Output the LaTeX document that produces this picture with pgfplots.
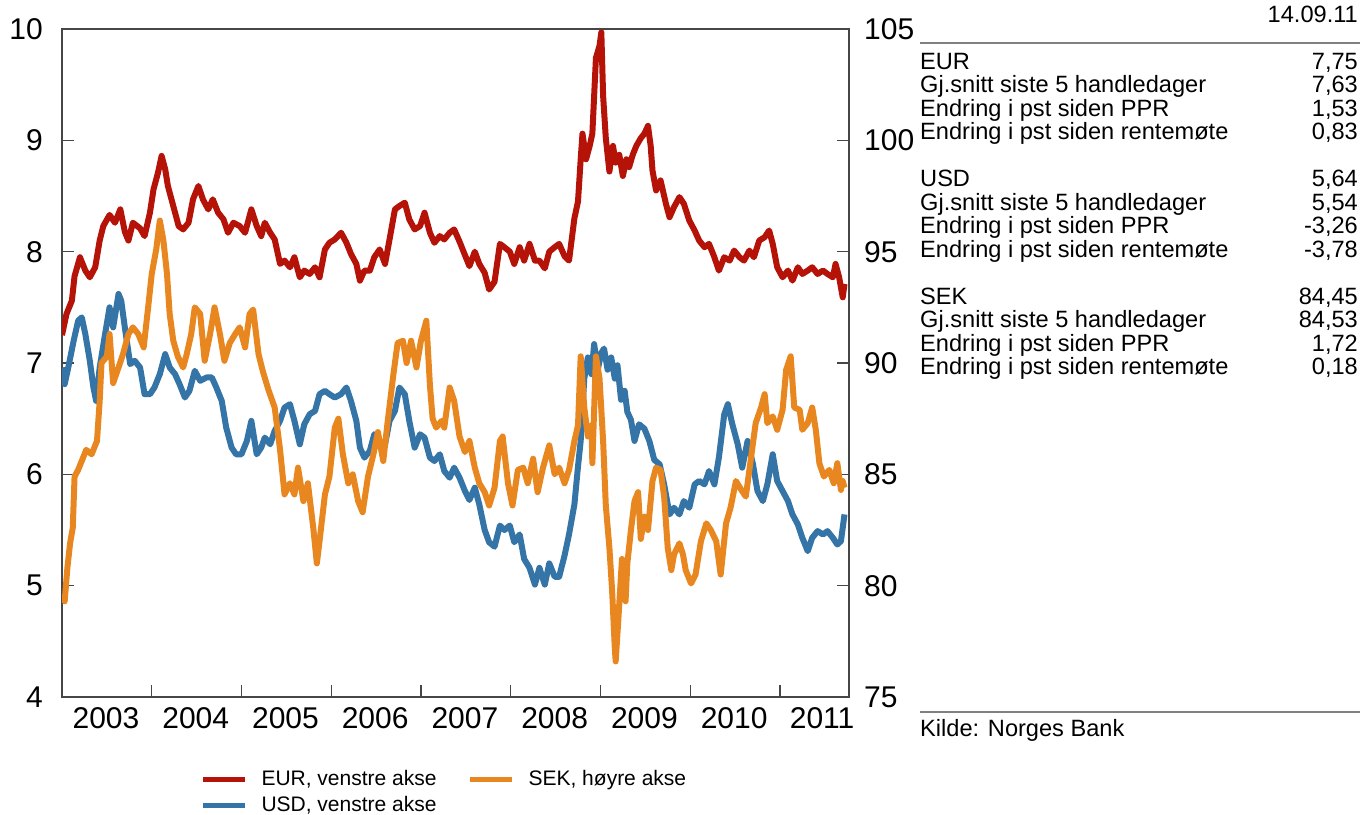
\documentclass[border=0pt]{standalone}
\usepackage{fontspec}
\setmainfont{Liberation Sans}
\usepackage{pgfplots}
\pgfplotsset{compat=1.18}
\definecolor{eur}{RGB}{181,18,8}
\definecolor{usd}{RGB}{52,116,166}
\definecolor{sek}{RGB}{232,135,32}
\definecolor{axgray}{RGB}{70,70,70}
\definecolor{rulegray}{RGB}{128,128,128}

\newcommand{\trow}[3]{%
  \node[anchor=base west,inner sep=0pt] at (920pt,-#1pt) {#2};%
  \node[anchor=base east,inner sep=0pt] at (1358pt,-#1pt) {#3};}

\begin{document}
\begin{tikzpicture}
\path[use as bounding box] (0pt,0pt) rectangle (1365pt,-814pt);
\pgfplotsset{
  every axis/.append style={
    scale only axis, width=787pt, height=668pt,
    xmin=2003, xmax=2011.77,
    axis line style={axgray, line width=1.2pt},
    every tick/.style={axgray, line width=1.2pt},
    major tick length=12pt,
    tick align=inside,
    /pgf/number format/assume math mode=true,
    ticklabel style={font=\fontsize{30}{36}\selectfont},
  }
}
\begin{axis}[at={(62pt,-697pt)}, anchor=south west,
  ymin=4, ymax=10, ytick={4,5,...,10},
  ytick pos=left, xtick pos=bottom,
  xtick={2004,2005,2006,2007,2008,2009,2010,2011}, xticklabels={},
  extra x ticks={2003.49,2004.49,2005.49,2006.49,2007.49,2008.49,2009.49,2010.49,2011.47},
  extra x tick labels={2003,2004,2005,2006,2007,2008,2009,2010,2011},
  extra x tick style={major tick length=0pt},
  xticklabel style={anchor=north, inner sep=0pt, yshift=-10pt},
  yticklabel style={anchor=east, inner sep=0pt, xshift=-19pt},
  legend columns=2,
  legend cell align=left,
  legend image code/.code={\draw[#1, line width=5pt] (0pt,0pt) -- (42pt,0pt);},
  legend style={draw=none, fill=none, inner sep=0pt, outer sep=0pt,
    at={(0.176,-0.110)}, anchor=north west,
    font=\fontsize{21}{25}\selectfont,
    nodes={inner sep=0pt, text height=15pt, text depth=4pt},
    row sep=7pt,
    /tikz/every odd column/.append style={column sep=14pt},
    /tikz/every even column/.append style={column sep=31pt}},
]
\addplot[eur, line width=6pt, line join=round] coordinates {
(2003.00,7.25)(2003.05,7.44)(2003.11,7.56)(2003.14,7.78)(2003.20,7.95)(2003.26,7.83)
(2003.31,7.77)(2003.37,7.86)(2003.42,8.10)(2003.46,8.23)(2003.53,8.33)(2003.59,8.26)
(2003.65,8.38)(2003.70,8.18)(2003.74,8.10)(2003.79,8.26)(2003.87,8.21)(2003.92,8.14)
(2003.98,8.35)(2004.02,8.56)(2004.07,8.71)(2004.11,8.86)(2004.15,8.74)(2004.18,8.59)
(2004.24,8.41)(2004.30,8.23)(2004.35,8.20)(2004.41,8.26)(2004.46,8.47)(2004.52,8.59)
(2004.57,8.47)(2004.63,8.38)(2004.68,8.47)(2004.74,8.35)(2004.80,8.29)(2004.85,8.17)
(2004.91,8.26)(2004.98,8.23)(2005.04,8.17)(2005.11,8.38)(2005.17,8.23)(2005.22,8.14)
(2005.26,8.26)(2005.32,8.17)(2005.37,8.11)(2005.43,7.89)(2005.48,7.92)(2005.54,7.86)
(2005.59,7.95)(2005.65,7.77)(2005.70,7.83)(2005.76,7.80)(2005.82,7.86)(2005.87,7.77)
(2005.93,8.02)(2005.98,8.08)(2006.04,8.11)(2006.11,8.17)(2006.17,8.08)(2006.22,7.98)
(2006.28,7.89)(2006.32,7.74)(2006.37,7.83)(2006.43,7.83)(2006.48,7.95)(2006.54,8.02)
(2006.60,7.89)(2006.65,8.11)(2006.71,8.38)(2006.76,8.41)(2006.82,8.44)(2006.87,8.29)
(2006.93,8.20)(2006.99,8.23)(2007.04,8.35)(2007.10,8.17)(2007.15,8.08)(2007.21,8.14)
(2007.26,8.11)(2007.32,8.17)(2007.37,8.20)(2007.43,8.09)(2007.49,7.97)(2007.54,7.87)
(2007.60,8.00)(2007.65,7.89)(2007.71,7.81)(2007.76,7.66)(2007.82,7.73)(2007.88,8.07)
(2007.93,8.04)(2007.99,8.00)(2008.04,7.89)(2008.10,8.04)(2008.15,7.92)(2008.21,8.07)
(2008.27,7.92)(2008.32,7.92)(2008.38,7.85)(2008.43,8.00)(2008.49,8.04)(2008.54,8.07)
(2008.60,7.96)(2008.65,7.92)(2008.71,8.30)(2008.75,8.45)(2008.78,8.83)(2008.80,9.06)
(2008.84,8.83)(2008.88,8.95)(2008.91,9.06)(2008.95,9.74)(2008.99,9.85)(2009.01,9.97)
(2009.03,9.40)(2009.06,9.02)(2009.10,8.72)(2009.14,8.95)(2009.17,8.80)(2009.21,8.87)
(2009.25,8.68)(2009.29,8.83)(2009.32,8.76)(2009.36,8.87)(2009.40,8.95)(2009.45,9.02)
(2009.49,9.06)(2009.53,9.13)(2009.56,8.95)(2009.58,8.73)(2009.62,8.55)(2009.67,8.64)
(2009.73,8.43)(2009.77,8.31)(2009.82,8.40)(2009.88,8.49)(2009.93,8.43)(2009.99,8.28)
(2010.05,8.19)(2010.10,8.10)(2010.16,8.04)(2010.21,8.07)(2010.27,7.95)(2010.32,7.83)
(2010.38,7.95)(2010.44,7.92)(2010.49,8.01)(2010.55,7.95)(2010.60,7.92)(2010.66,8.01)
(2010.71,7.95)(2010.77,8.10)(2010.83,8.13)(2010.88,8.19)(2010.92,8.07)(2010.97,7.86)
(2011.03,7.77)(2011.09,7.83)(2011.14,7.74)(2011.20,7.86)(2011.25,7.80)(2011.31,7.83)
(2011.36,7.86)(2011.42,7.80)(2011.48,7.83)(2011.53,7.80)(2011.59,7.77)(2011.62,7.89)
(2011.66,7.77)(2011.70,7.59)(2011.72,7.71)
};
\addlegendentry{EUR, venstre akse}
\addlegendimage{sek}
\addlegendentry{SEK, høyre akse}
\addplot[usd, line width=6pt, line join=round] coordinates {
(2003.00,6.96)(2003.03,6.81)(2003.07,6.96)(2003.13,7.20)(2003.18,7.38)(2003.22,7.41)
(2003.26,7.26)(2003.31,7.02)(2003.35,6.78)(2003.38,6.66)(2003.42,6.96)(2003.48,7.26)
(2003.53,7.50)(2003.57,7.32)(2003.63,7.62)(2003.66,7.56)(2003.70,7.32)(2003.76,6.99)
(2003.81,7.02)(2003.87,6.96)(2003.92,6.72)(2003.98,6.72)(2004.03,6.78)(2004.09,6.90)
(2004.15,7.08)(2004.20,6.96)(2004.26,6.90)(2004.31,6.81)(2004.37,6.69)(2004.42,6.75)
(2004.48,6.93)(2004.54,6.84)(2004.61,6.87)(2004.67,6.87)(2004.72,6.78)(2004.78,6.66)
(2004.83,6.42)(2004.89,6.24)(2004.94,6.18)(2005.00,6.18)(2005.06,6.30)(2005.11,6.48)
(2005.17,6.18)(2005.22,6.24)(2005.26,6.33)(2005.32,6.27)(2005.37,6.39)(2005.43,6.48)
(2005.48,6.60)(2005.54,6.63)(2005.59,6.48)(2005.65,6.27)(2005.70,6.45)(2005.76,6.54)
(2005.82,6.57)(2005.87,6.72)(2005.93,6.75)(2005.98,6.72)(2006.04,6.69)(2006.11,6.72)
(2006.17,6.78)(2006.22,6.66)(2006.28,6.48)(2006.32,6.24)(2006.37,6.15)(2006.43,6.21)
(2006.48,6.36)(2006.54,6.30)(2006.60,6.27)(2006.65,6.48)(2006.71,6.57)(2006.76,6.78)
(2006.82,6.72)(2006.87,6.48)(2006.93,6.24)(2006.99,6.36)(2007.04,6.33)(2007.10,6.15)
(2007.15,6.12)(2007.21,6.18)(2007.26,6.03)(2007.32,5.97)(2007.37,6.06)(2007.43,5.97)
(2007.49,5.85)(2007.54,5.77)(2007.60,5.88)(2007.65,5.73)(2007.71,5.50)(2007.76,5.39)
(2007.82,5.35)(2007.88,5.54)(2007.93,5.50)(2007.99,5.54)(2008.04,5.39)(2008.10,5.46)
(2008.15,5.24)(2008.21,5.16)(2008.27,5.01)(2008.32,5.16)(2008.38,5.01)(2008.43,5.20)
(2008.49,5.08)(2008.54,5.08)(2008.60,5.27)(2008.65,5.46)(2008.71,5.73)(2008.75,6.07)
(2008.78,6.30)(2008.82,6.86)(2008.86,7.05)(2008.90,6.90)(2008.93,7.17)(2008.97,6.94)
(2009.01,7.09)(2009.04,7.13)(2009.08,6.94)(2009.12,7.05)(2009.16,6.86)(2009.19,6.98)
(2009.23,6.67)(2009.27,6.75)(2009.30,6.56)(2009.34,6.49)(2009.38,6.30)(2009.43,6.45)
(2009.49,6.41)(2009.545,6.30)(2009.60,6.13)(2009.66,6.09)(2009.71,5.91)(2009.77,5.64)
(2009.82,5.70)(2009.88,5.64)(2009.93,5.76)(2009.99,5.70)(2010.05,5.91)(2010.10,5.94)
(2010.16,5.91)(2010.21,6.03)(2010.27,5.91)(2010.32,6.15)(2010.38,6.54)(2010.42,6.63)
(2010.47,6.45)(2010.53,6.27)(2010.58,6.06)(2010.64,6.30)(2010.70,6.09)(2010.75,5.85)
(2010.81,5.76)(2010.86,5.91)(2010.92,6.18)(2010.97,5.94)(2011.03,5.85)(2011.09,5.76)
(2011.14,5.64)(2011.20,5.55)(2011.25,5.43)(2011.31,5.31)(2011.36,5.43)(2011.42,5.49)
(2011.48,5.46)(2011.53,5.49)(2011.59,5.43)(2011.64,5.37)(2011.68,5.40)(2011.72,5.64)
};
\addlegendentry{USD, venstre akse}
\end{axis}

\begin{axis}[at={(62pt,-697pt)}, anchor=south west,
  ymin=75, ymax=105, ytick={75,80,...,105},
  axis y line*=right, axis x line=none,
  yticklabel style={anchor=west, inner sep=0pt, xshift=15pt},
]
\addplot[sek, line width=6pt, line join=round] coordinates {
(2003.00,79.6)(2003.03,79.3)(2003.06,80.8)(2003.09,81.9)(2003.12,82.6)(2003.14,84.9)
(2003.18,85.2)(2003.22,85.6)(2003.27,86.1)(2003.33,85.9)(2003.39,86.5)(2003.42,88.3)
(2003.44,90.0)(2003.50,90.3)(2003.53,91.3)(2003.57,89.1)(2003.63,89.8)(2003.68,90.4)
(2003.74,91.3)(2003.79,91.6)(2003.85,91.3)(2003.91,90.7)(2003.96,92.5)(2004.00,94.0)
(2004.05,95.1)(2004.09,96.4)(2004.13,95.5)(2004.17,94.0)(2004.20,92.2)(2004.24,91.0)
(2004.29,90.3)(2004.35,89.8)(2004.39,90.4)(2004.44,91.3)(2004.48,92.5)(2004.54,92.2)
(2004.59,90.1)(2004.65,91.3)(2004.70,92.5)(2004.76,91.3)(2004.81,90.1)(2004.87,90.9)
(2004.93,91.3)(2004.98,91.6)(2005.04,90.7)(2005.09,92.2)(2005.13,92.4)(2005.19,90.4)
(2005.24,89.6)(2005.30,88.8)(2005.37,88.0)(2005.43,86.1)(2005.48,84.1)(2005.54,84.6)
(2005.59,84.1)(2005.63,85.3)(2005.69,83.8)(2005.74,84.6)(2005.80,82.6)(2005.84,81.0)
(2005.87,82.0)(2005.93,84.1)(2005.98,84.9)(2006.04,87.1)(2006.08,87.5)(2006.13,85.9)
(2006.19,84.6)(2006.24,85.0)(2006.30,83.8)(2006.35,83.3)(2006.41,84.9)(2006.47,85.9)
(2006.52,86.9)(2006.58,85.6)(2006.63,87.4)(2006.69,89.4)(2006.74,90.9)(2006.80,91.0)
(2006.84,90.0)(2006.89,91.0)(2006.95,89.8)(2007.00,91.0)(2007.06,91.9)(2007.10,89.0)
(2007.13,87.5)(2007.17,87.1)(2007.23,87.4)(2007.26,87.1)(2007.32,88.9)(2007.37,88.3)
(2007.43,86.7)(2007.49,86.0)(2007.54,86.5)(2007.60,85.3)(2007.65,84.6)(2007.71,84.2)
(2007.76,83.6)(2007.82,84.4)(2007.88,86.5)(2007.91,86.7)(2007.97,84.6)(2008.02,83.6)
(2008.08,85.2)(2008.14,85.3)(2008.19,84.6)(2008.25,85.7)(2008.30,84.2)(2008.36,85.3)
(2008.43,86.3)(2008.49,85.0)(2008.54,85.3)(2008.60,84.6)(2008.65,85.2)(2008.71,86.5)
(2008.75,87.2)(2008.78,90.3)(2008.82,88.0)(2008.86,86.7)(2008.90,87.2)(2008.91,85.5)
(2008.95,90.3)(2008.99,89.3)(2009.03,86.5)(2009.06,83.6)(2009.10,81.7)(2009.13,79.8)
(2009.16,77.2)(2009.17,76.6)(2009.20,78.5)(2009.24,81.2)(2009.28,79.3)(2009.30,81.0)
(2009.34,82.5)(2009.38,83.8)(2009.42,84.2)(2009.45,82.1)(2009.49,83.1)(2009.53,82.5)
(2009.58,84.7)(2009.62,85.3)(2009.67,85.2)(2009.71,84.0)(2009.75,81.7)(2009.79,80.7)
(2009.82,81.4)(2009.88,81.9)(2009.92,81.4)(2009.95,80.7)(2010.01,80.1)(2010.06,80.5)
(2010.12,82.0)(2010.18,82.8)(2010.23,82.5)(2010.29,82.0)(2010.34,80.5)(2010.40,82.8)
(2010.45,83.5)(2010.51,84.7)(2010.57,84.3)(2010.62,84.0)(2010.68,85.8)(2010.73,87.3)
(2010.79,88.0)(2010.83,88.6)(2010.86,87.3)(2010.92,87.6)(2010.97,87.0)(2011.03,87.9)
(2011.07,89.7)(2011.12,90.3)(2011.16,88.0)(2011.22,87.9)(2011.25,87.0)(2011.31,87.3)
(2011.36,88.0)(2011.40,87.0)(2011.44,85.5)(2011.49,84.9)(2011.55,85.2)(2011.60,84.6)
(2011.64,85.5)(2011.68,84.3)(2011.70,84.7)(2011.72,84.4)
};
\end{axis}

\begin{scope}[font=\fontsize{23.6}{23.6}\selectfont]
\node[anchor=base east,inner sep=0pt] at (1358pt,-22.2pt) {14.09.11};
\draw[rulegray, line width=1.5pt] (920pt,-43pt) -- (1360pt,-43pt);
\trow{69.2}{EUR}{7,75}
\trow{92.7}{Gj.snitt siste 5 handledager}{7,63}
\trow{116.2}{Endring i pst siden PPR}{1,53}
\trow{139.7}{Endring i pst siden rentemøte}{0,83}
\trow{186.7}{USD}{5,64}
\trow{210.2}{Gj.snitt siste 5 handledager}{5,54}
\trow{233.7}{Endring i pst siden PPR}{-3,26}
\trow{257.2}{Endring i pst siden rentemøte}{-3,78}
\trow{304.2}{SEK}{84,45}
\trow{327.7}{Gj.snitt siste 5 handledager}{84,53}
\trow{351.2}{Endring i pst siden PPR}{1,72}
\trow{374.7}{Endring i pst siden rentemøte}{0,18}
\draw[rulegray, line width=1.5pt] (920pt,-712pt) -- (1360pt,-712pt);
\node[anchor=base west,inner sep=0pt] at (920pt,-736pt) {Kilde: Norges Bank};
\end{scope}
\end{tikzpicture}
\end{document}
